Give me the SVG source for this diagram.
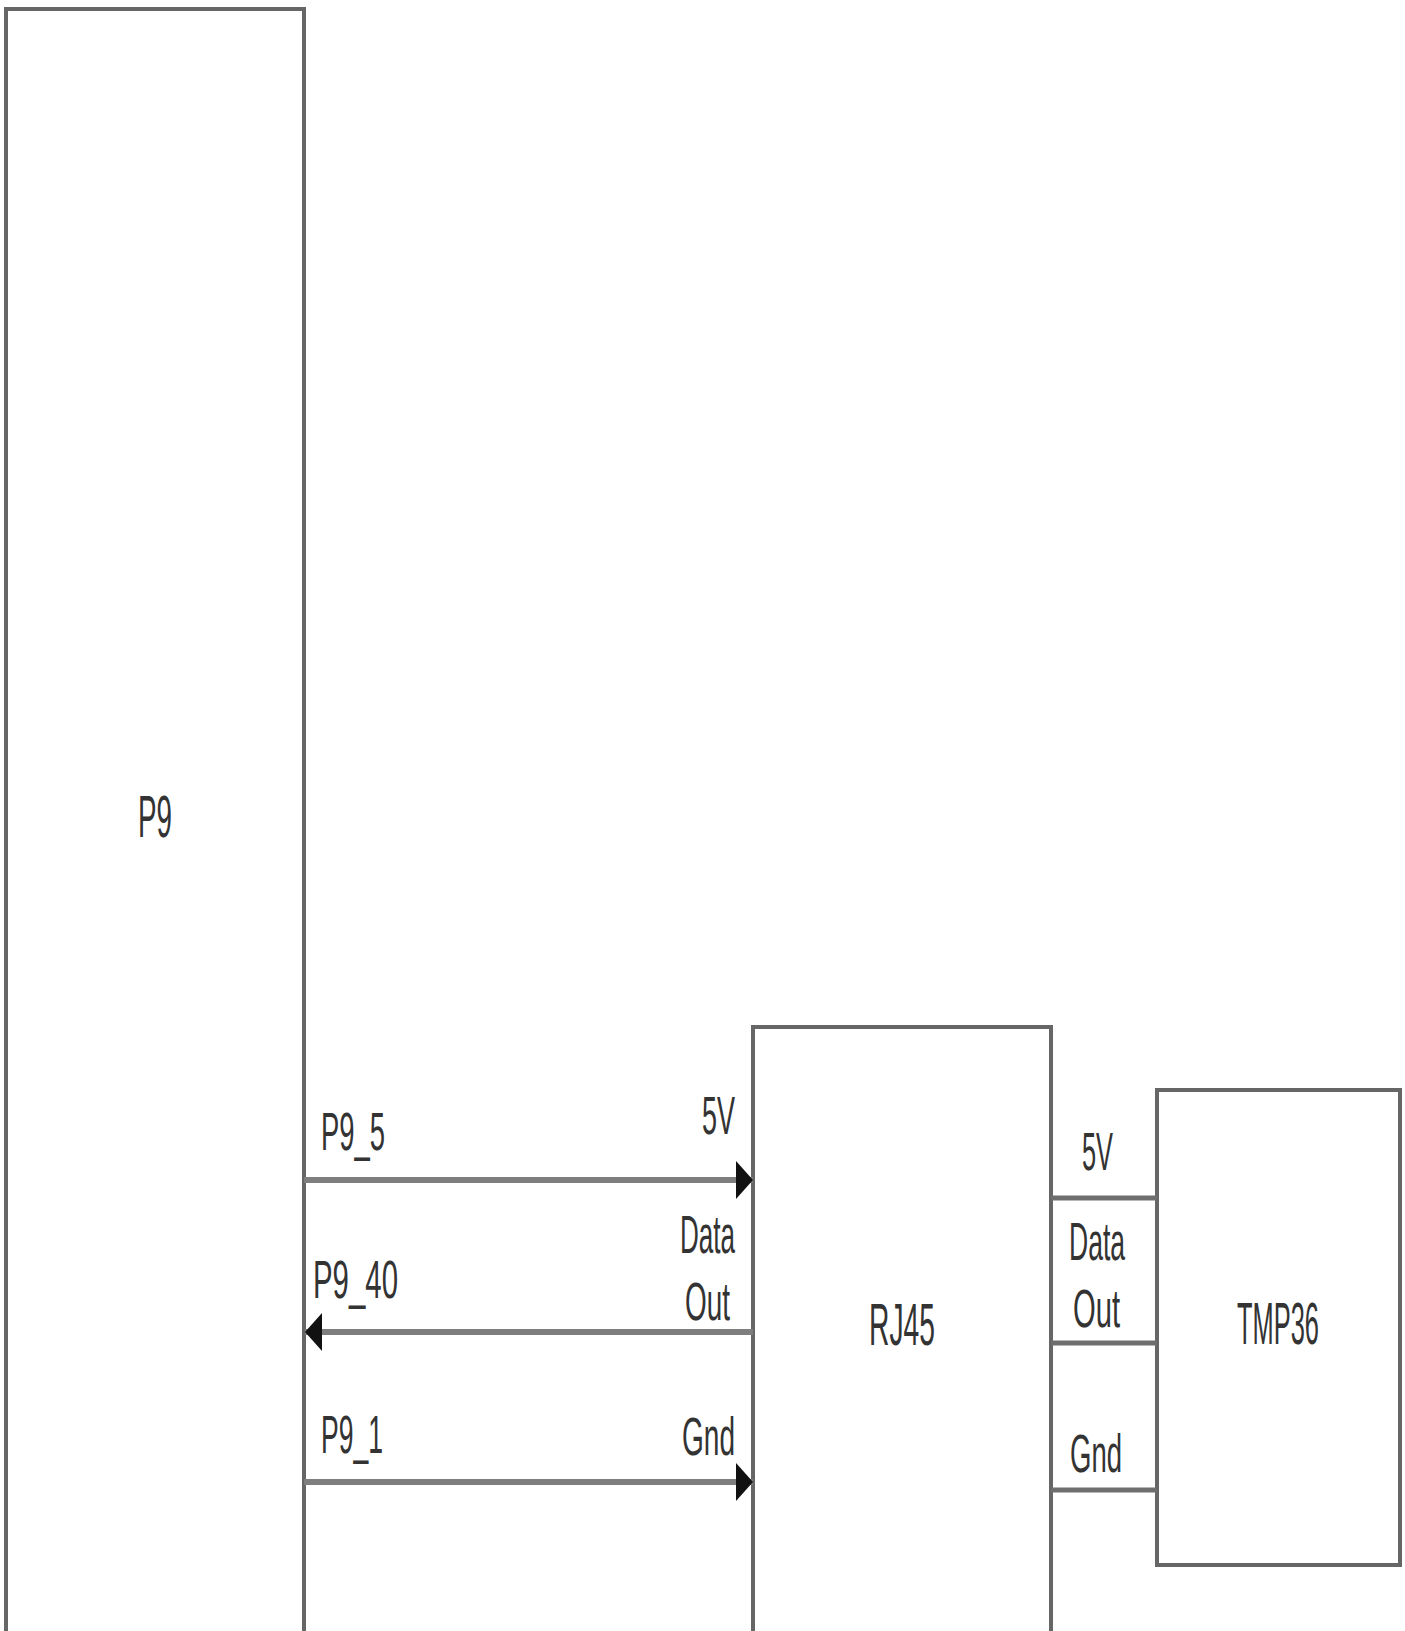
<svg xmlns="http://www.w3.org/2000/svg" width="1405" height="1631" viewBox="0 0 1405 1631">
<style>
.box{fill:#fff;stroke:#666;stroke-width:4}
.lbl{font-family:"Liberation Sans Narrow","Liberation Sans",Arial,sans-serif;font-size:54px;fill:#333}
.name{font-family:"Liberation Sans Narrow","Liberation Sans",Arial,sans-serif;font-size:60px;fill:#333}
.wire{stroke:#7e7e7e;stroke-width:6;fill:none}
.pin{stroke:#6e6e6e;stroke-width:5;fill:none}
</style>
<defs>
<marker id="arr" viewBox="0 0 17 38" refX="17" refY="19" markerWidth="17" markerHeight="38" markerUnits="userSpaceOnUse" orient="auto">
<path d="M0,0 L17,19 L0,38 z" fill="#111"/>
</marker>
</defs>
<rect width="1405" height="1631" fill="#fff"/>
<g id="P9">
<rect class="box" x="6" y="9" width="298" height="1640"/>
<text class="name" x="138" y="837" textLength="34" lengthAdjust="spacingAndGlyphs">P9</text>
</g>
<g id="RJ45">
<rect class="box" x="753" y="1027" width="298" height="620"/>
<text class="name" x="869" y="1345" textLength="66" lengthAdjust="spacingAndGlyphs">RJ45</text>
</g>
<g id="TMP36">
<rect class="box" x="1157" y="1090" width="243" height="475"/>
<text class="name" transform="translate(1237 1344) scale(0.5 1)" x="0" y="0" textLength="164" lengthAdjust="spacingAndGlyphs">TMP36</text>
</g>
<g id="connectors">
<line class="wire" x1="304" y1="1180" x2="753" y2="1180" marker-end="url(#arr)"/>
<line class="wire" x1="753" y1="1332" x2="305" y2="1332" marker-end="url(#arr)"/>
<line class="wire" x1="304" y1="1482" x2="753" y2="1482" marker-end="url(#arr)"/>
<line class="pin" x1="1051" y1="1198" x2="1157" y2="1198"/>
<line class="pin" x1="1051" y1="1343" x2="1157" y2="1343"/>
<line class="pin" x1="1051" y1="1490" x2="1157" y2="1490"/>
</g>
<g id="labels">
<text class="lbl" x="321" y="1150" textLength="64" lengthAdjust="spacingAndGlyphs">P9_5</text>
<text class="lbl" x="702" y="1134" textLength="33" lengthAdjust="spacingAndGlyphs">5V</text>
<text class="lbl" x="680" y="1253" textLength="55" lengthAdjust="spacingAndGlyphs">Data</text>
<text class="lbl" x="685" y="1320" textLength="45" lengthAdjust="spacingAndGlyphs">Out</text>
<text class="lbl" x="313" y="1298" textLength="85" lengthAdjust="spacingAndGlyphs">P9_40</text>
<text class="lbl" x="321" y="1453" textLength="62" lengthAdjust="spacingAndGlyphs">P9_1</text>
<text class="lbl" x="682" y="1455" textLength="53" lengthAdjust="spacingAndGlyphs">Gnd</text>
<text class="lbl" x="1082" y="1170" textLength="31" lengthAdjust="spacingAndGlyphs">5V</text>
<text class="lbl" x="1069" y="1260" textLength="56" lengthAdjust="spacingAndGlyphs">Data</text>
<text class="lbl" x="1073" y="1327" textLength="47" lengthAdjust="spacingAndGlyphs">Out</text>
<text class="lbl" x="1070" y="1472" textLength="52" lengthAdjust="spacingAndGlyphs">Gnd</text>
</g>
</svg>
